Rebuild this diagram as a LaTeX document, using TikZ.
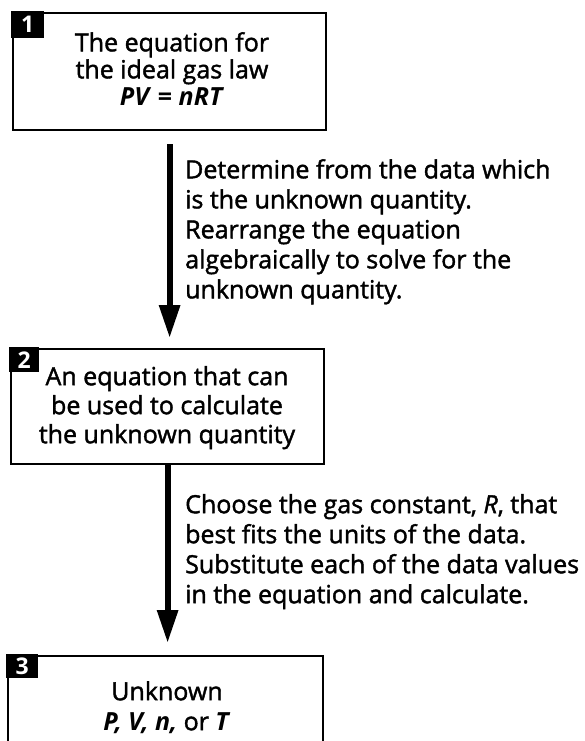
\documentclass[tikz,border=0pt]{standalone}
\usepackage{fontspec}
\setmainfont{Open Sans}[UprightFeatures={FakeBold=1.6}, ItalicFeatures={FakeBold=1.6}]
\usetikzlibrary{arrows.meta}
\begin{document}
\begin{tikzpicture}[x=1pt,y=-1pt,
  box/.style={draw, line width=2.2pt, rectangle, anchor=north west, inner sep=0pt},
  tag/.style={fill=black, text=white, anchor=north west, inner sep=0pt,
    font=\fontsize{23}{23}\selectfont\bfseries},
  boxtext/.style={align=center, anchor=north, inner sep=0pt},
  steptext/.style={align=left, anchor=north west, inner sep=0pt,
    font=\fontsize{25}{30}\selectfont},
  flow/.style={line width=6pt, -{Triangle[length=33pt,width=20pt]}}
]
\useasboundingbox (0,0) rectangle (585,741);
\fill[white] (0,0) rectangle (585,741);
\clip (0,0) rectangle (585,741);

% boxes
\node[box, minimum width=313pt, minimum height=117pt] (b1) at (12,12) {};
\node[box, minimum width=313pt, minimum height=115pt] (b2) at (10,348) {};
\node[box, minimum width=315pt, minimum height=130pt] (b3) at (7,655) {};

% tags
\node[tag, minimum width=33pt, minimum height=27pt] (g1) at ([shift={(-1pt,1pt)}]b1.north west) {1};
\node[tag, minimum width=30pt, minimum height=25pt] (g2) at ([shift={(-1pt,1pt)}]b2.north west) {2};
\node[tag, minimum width=32pt, minimum height=24pt] (g3) at ([shift={(-1pt,1pt)}]b3.north west) {3};

% box texts
\node[boxtext, font=\fontsize{25}{27}\selectfont] (t1) at (172,32)
  {The equation for\\the ideal gas law\\\textbf{\textit{PV} = \textit{nRT}}};
\node[boxtext, font=\fontsize{25}{29}\selectfont] (t2) at (167,366)
  {An equation that can\\be used to calculate\\the unknown quantity};
\node[boxtext, font=\fontsize{25}{30}\selectfont] (t3) at (167,681)
  {Unknown\\\textbf{\textit{P, V, n,}} or \textbf{\textit{T}}};

% arrows
\draw[flow, shorten <=13pt, shorten >=10pt] (b1.south) -- (b1.south |- b2.north);
\draw[flow, shorten <=0pt, shorten >=12pt] (b2.south) -- (b2.south |- b3.north);

% arrow texts
\node[steptext] (s1) at (185,159)
  {Determine from the data which\\is the unknown quantity.\\Rearrange the equation\\algebraically to solve for the\\unknown quantity.};
\node[steptext] (s2) at (185,494)
  {Choose the gas constant, \textit{R}, that\\best fits the units of the data.\\Substitute each of the data values\\in the equation and calculate.};
\end{tikzpicture}
\end{document}
